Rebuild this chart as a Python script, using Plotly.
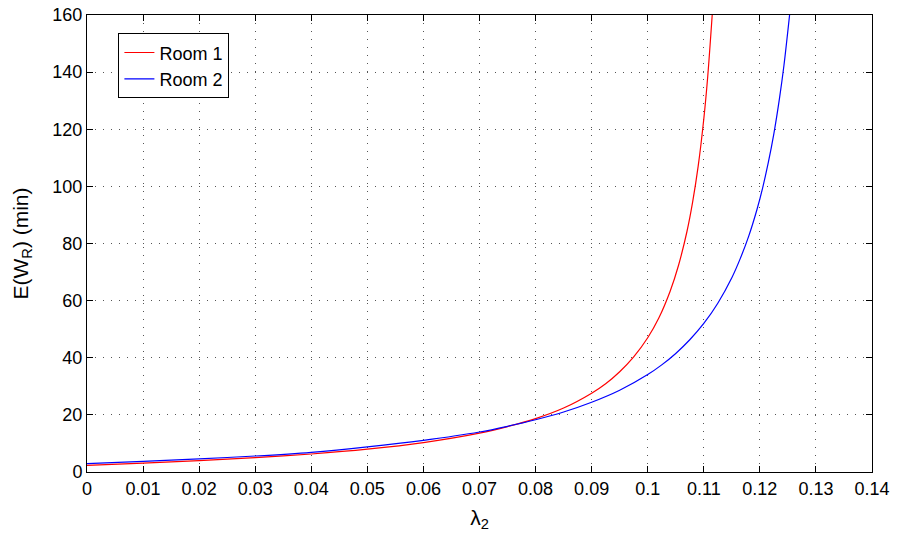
import plotly.graph_objects as go

room1_lambda = [0, 0.01, 0.02, 0.03, 0.04, 0.05, 0.06, 0.07, 0.075, 0.08, 0.085, 0.09, 0.0925,
                0.095, 0.0975, 0.1, 0.102, 0.104, 0.1055, 0.107, 0.108, 0.109, 0.11, 0.1107, 0.1115]
room1_wait = [2.3, 3.1, 4.0, 5.0, 6.3, 8.0, 10.3, 13.6, 15.9, 18.7, 22.4, 27.6, 30.9,
              35.1, 40.3, 47.0, 54.0, 63.3, 72.4, 84.2, 94.4, 107.1, 123.6, 138.4, 160]

room2_lambda = [0, 0.01, 0.02, 0.03, 0.04, 0.05, 0.06, 0.07, 0.075, 0.08, 0.085, 0.09, 0.095,
                0.1, 0.1025, 0.105, 0.1075, 0.11, 0.1125, 0.115, 0.1165, 0.118, 0.1195, 0.1205,
                0.1215, 0.1225, 0.1235, 0.1243, 0.1253]
room2_wait = [2.9, 3.7, 4.6, 5.6, 6.9, 8.8, 11.1, 14.0, 16.0, 18.3, 21.0, 24.4, 28.6,
              34.1, 37.5, 41.5, 46.3, 52.0, 59.1, 68.0, 74.7, 82.5, 92.0, 99.5,
              108.3, 118.5, 130.8, 142.4, 160]

x_ticks = [0, 0.01, 0.02, 0.03, 0.04, 0.05, 0.06, 0.07, 0.08, 0.09, 0.1, 0.11, 0.12, 0.13, 0.14]
x_tick_labels = ["0", "0.01", "0.02", "0.03", "0.04", "0.05", "0.06", "0.07", "0.08",
                 "0.09", "0.1", "0.11", "0.12", "0.13", "0.14"]
y_ticks = [0, 20, 40, 60, 80, 100, 120, 140, 160]

FONT = "Liberation Sans, Arial, Helvetica, sans-serif"

fig = go.Figure()
fig.add_trace(go.Scatter(x=room1_lambda, y=room1_wait, mode="lines", name="Room 1",
                         line=dict(color="#ff0000", width=1.2, shape="spline", smoothing=0.9)))
fig.add_trace(go.Scatter(x=room2_lambda, y=room2_wait, mode="lines", name="Room 2",
                         line=dict(color="#0000ff", width=1.2, shape="spline", smoothing=0.9)))

axis_common = dict(
    showline=True, linecolor="black", linewidth=1, mirror="allticks",
    ticks="inside", ticklen=6, tickcolor="black",
    showgrid=True, gridcolor="#555555", griddash="1px,7px", gridwidth=1,
    zeroline=False, automargin=False,
    tickfont=dict(family=FONT, size=18, color="black"),
)

fig.update_xaxes(range=[0, 0.14], tickvals=x_ticks, ticktext=x_tick_labels,
                 title=dict(text="λ<sub>2</sub>", font=dict(family=FONT, size=21, color="black"), standoff=12),
                 **axis_common)
fig.update_yaxes(range=[0, 160], tickvals=y_ticks,
                 title=dict(text="E(W<sub>R</sub>) (min)", font=dict(family=FONT, size=21, color="black"), standoff=18),
                 **axis_common)

fig.update_layout(
    width=897, height=543,
    margin=dict(l=87, r=25, t=15, b=71),
    paper_bgcolor="white", plot_bgcolor="white",
    font=dict(family=FONT, color="black"),
    legend=dict(x=0.04, y=0.96, xanchor="left", yanchor="top",
                bgcolor="white", bordercolor="black", borderwidth=1,
                font=dict(family=FONT, size=18, color="black"),
                tracegroupgap=0),
    showlegend=True,
)

fig.write_html("out.html")
